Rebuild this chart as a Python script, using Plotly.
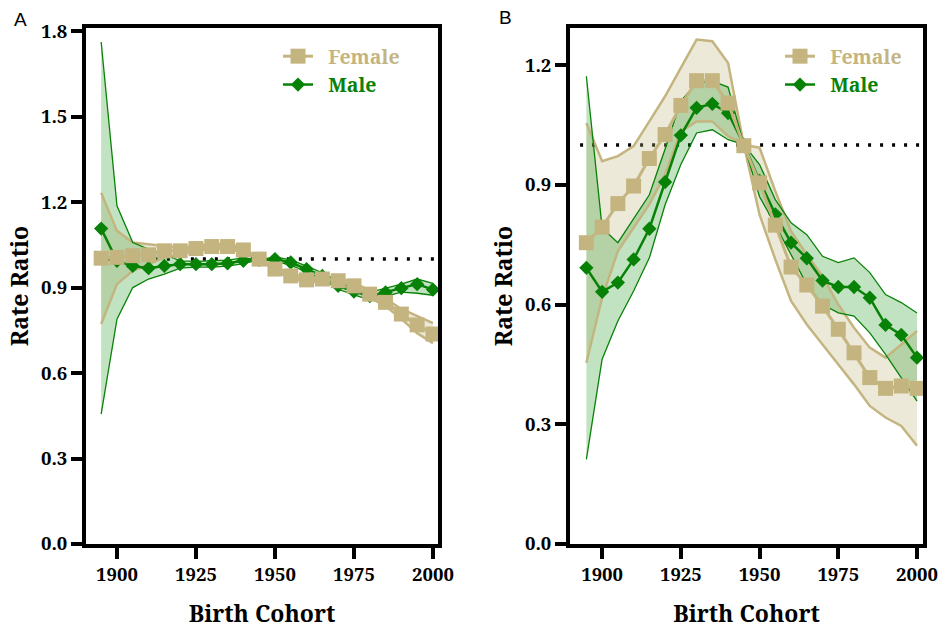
import plotly.graph_objects as go

years = [1895, 1900, 1905, 1910, 1915, 1920, 1925, 1930, 1935, 1940, 1945,
         1950, 1955, 1960, 1965, 1970, 1975, 1980, 1985, 1990, 1995, 2000]

# Panel A
a_female = [1.003, 1.006, 1.012, 1.015, 1.029, 1.029, 1.037, 1.044, 1.044, 1.032, 1.000,
            0.965, 0.941, 0.927, 0.930, 0.924, 0.906, 0.877, 0.848, 0.807, 0.769, 0.737]
a_female_hi = [1.233, 1.099, 1.058, 1.052, 1.046, 1.040, 1.046, 1.053, 1.053, 1.040, 1.000,
               0.972, 0.949, 0.936, 0.940, 0.934, 0.917, 0.889, 0.861, 0.825, 0.800, 0.775]
a_female_lo = [0.772, 0.912, 0.959, 0.982, 1.005, 1.018, 1.028, 1.035, 1.035, 1.024, 1.000,
               0.958, 0.933, 0.918, 0.920, 0.914, 0.895, 0.865, 0.835, 0.790, 0.740, 0.705]
a_male = [1.107, 0.994, 0.976, 0.968, 0.976, 0.982, 0.982, 0.982, 0.985, 0.994, 0.997,
          1.000, 0.988, 0.965, 0.941, 0.906, 0.886, 0.870, 0.883, 0.898, 0.912, 0.893]
a_male_hi = [1.762, 1.187, 1.058, 1.035, 1.017, 0.994, 0.992, 0.993, 0.996, 1.004, 0.997,
             1.008, 0.997, 0.975, 0.952, 0.918, 0.898, 0.883, 0.897, 0.912, 0.930, 0.915]
a_male_lo = [0.456, 0.789, 0.900, 0.930, 0.947, 0.968, 0.972, 0.972, 0.975, 0.984, 0.997,
             0.992, 0.979, 0.955, 0.930, 0.894, 0.874, 0.857, 0.869, 0.884, 0.880, 0.873]

# Panel B
b_female = [0.755, 0.794, 0.853, 0.897, 0.966, 1.026, 1.099, 1.161, 1.161, 1.105, 0.998,
            0.905, 0.799, 0.694, 0.649, 0.596, 0.538, 0.479, 0.417, 0.390, 0.396, 0.390]
b_female_hi = [1.055, 0.959, 0.972, 0.997, 1.059, 1.122, 1.193, 1.264, 1.260, 1.205, 1.000,
               0.993, 0.884, 0.784, 0.725, 0.671, 0.600, 0.542, 0.492, 0.467, 0.500, 0.534]
b_female_lo = [0.454, 0.617, 0.734, 0.792, 0.851, 0.926, 1.034, 1.059, 1.059, 1.022, 1.000,
               0.825, 0.713, 0.609, 0.550, 0.500, 0.450, 0.400, 0.346, 0.317, 0.296, 0.246]
b_male = [0.692, 0.632, 0.655, 0.713, 0.790, 0.907, 1.024, 1.093, 1.103, 1.080, 1.001,
          0.910, 0.826, 0.755, 0.716, 0.660, 0.644, 0.644, 0.617, 0.549, 0.524, 0.467]
b_male_hi = [1.172, 0.792, 0.755, 0.816, 0.875, 0.990, 1.110, 1.155, 1.160, 1.145, 1.001,
             0.951, 0.863, 0.805, 0.775, 0.721, 0.705, 0.717, 0.680, 0.625, 0.605, 0.579]
b_male_lo = [0.212, 0.463, 0.559, 0.634, 0.717, 0.850, 0.951, 1.030, 1.038, 1.013, 1.001,
             0.870, 0.800, 0.725, 0.650, 0.600, 0.579, 0.571, 0.529, 0.475, 0.417, 0.358]

x_ticks = [1900, 1925, 1950, 1975, 2000]
a_yticks = [0.0, 0.3, 0.6, 0.9, 1.2, 1.5, 1.8]
b_yticks = [0.0, 0.3, 0.6, 0.9, 1.2]

TAN = "#C4B580"
TAN_FILL = "rgba(196,181,128,0.30)"
GREEN = "#078207"
GREEN_FILL = "rgba(0,140,0,0.24)"
SERIF = "Noto Serif"

W, H = 941, 629  # body margin removed via post_script, so these are page pixels

fig = go.Figure()


def add_panel(fig, xa, ya, fem, fhi, flo, mal, mhi, mlo, legend):
    fig.add_trace(go.Scatter(x=years + years[::-1], y=fhi + flo[::-1], fill="toself",
                             fillcolor=TAN_FILL, line=dict(width=0), mode="lines",
                             hoverinfo="skip", showlegend=False, xaxis=xa, yaxis=ya))
    fig.add_trace(go.Scatter(x=years + years[::-1], y=mhi + mlo[::-1], fill="toself",
                             fillcolor=GREEN_FILL, line=dict(width=0), mode="lines",
                             hoverinfo="skip", showlegend=False, xaxis=xa, yaxis=ya))
    for arr in (fhi, flo):
        fig.add_trace(go.Scatter(x=years, y=arr, mode="lines", line=dict(color=TAN, width=2.5),
                                 hoverinfo="skip", showlegend=False, xaxis=xa, yaxis=ya))
    for arr in (mhi, mlo):
        fig.add_trace(go.Scatter(x=years, y=arr, mode="lines", line=dict(color=GREEN, width=1.3),
                                 hoverinfo="skip", showlegend=False, xaxis=xa, yaxis=ya))
    fig.add_trace(go.Scatter(x=years, y=mal, mode="lines+markers",
                             name="<b><span style='color:%s'>\u00a0\u00a0Male</span></b>" % GREEN,
                             line=dict(color=GREEN, width=2.5),
                             marker=dict(symbol="diamond", size=11, color=GREEN),
                             xaxis=xa, yaxis=ya, legend=legend, legendrank=2))
    fig.add_trace(go.Scatter(x=years, y=fem, mode="lines+markers",
                             name="<b><span style='color:%s'>\u00a0\u00a0Female</span></b>" % TAN,
                             line=dict(color=TAN, width=3),
                             marker=dict(symbol="square", size=15, color=TAN),
                             xaxis=xa, yaxis=ya, legend=legend, legendrank=1))


add_panel(fig, "x", "y", a_female, a_female_hi, a_female_lo, a_male, a_male_hi, a_male_lo,
          "legend")
add_panel(fig, "x2", "y2", b_female, b_female_hi, b_female_lo, b_male, b_male_hi, b_male_lo,
          "legend2")

for xr, yr in (("x", "y"), ("x2", "y2")):
    fig.add_shape(type="line", xref=xr, yref=yr, x0=1893, x1=2002, y0=1.0, y1=1.0,
                  line=dict(color="black", width=3.5, dash="3px,9px"), layer="below")

axis_common = dict(showgrid=False, zeroline=False, showline=True, linecolor="black",
                   linewidth=4, mirror=True, ticks="outside", ticklen=11, tickwidth=3.5,
                   tickcolor="black", automargin=False, ticklabeloverflow="allow",
                   tickfont=dict(family=SERIF, size=18.5, color="black", weight="bold"))

title_font = dict(family=SERIF, size=23, color="black", weight="bold")
YDOM = [1 - 544 / H, 1 - 28 / H]

fig.update_layout(
    width=W, height=H,
    margin=dict(l=0, r=0, t=0, b=0, autoexpand=False),
    paper_bgcolor="white", plot_bgcolor="white",
    xaxis=dict(domain=[86 / W, 438 / W], range=[1890.2, 2001.6], tickvals=x_ticks, anchor="y",
               title=dict(text="Birth Cohort", font=title_font, standoff=22), **axis_common),
    yaxis=dict(domain=YDOM, range=[0, 1.811], tickvals=a_yticks, anchor="x",
               tickformat=".1f",
               title=dict(text="Rate Ratio", font=title_font, standoff=7), **axis_common),
    xaxis2=dict(domain=[570 / W, 923 / W], range=[1889.8, 2001.9], tickvals=x_ticks, anchor="y2",
                title=dict(text="Birth Cohort", font=title_font, standoff=22), **axis_common),
    yaxis2=dict(domain=YDOM, range=[0, 1.293], tickvals=b_yticks, anchor="x2",
                tickformat=".1f",
                title=dict(text="Rate Ratio", font=title_font, standoff=7), **axis_common),
    legend=dict(x=278 / W, y=1 - 37 / H, xanchor="left", yanchor="top",
                bgcolor="rgba(0,0,0,0)", traceorder="normal",
                font=dict(family=SERIF, size=19.5), itemwidth=30),
    legend2=dict(x=780 / W, y=1 - 37 / H, xanchor="left", yanchor="top",
                 bgcolor="rgba(0,0,0,0)", traceorder="normal",
                 font=dict(family=SERIF, size=19.5), itemwidth=30),
    annotations=[
        dict(text="A", x=12 / W, y=1 - 20 / H, xref="paper", yref="paper",
             showarrow=False, xanchor="left", yanchor="middle",
             font=dict(family="Liberation Sans, Arial, sans-serif", size=19, color="black")),
        dict(text="B", x=497 / W, y=1 - 18 / H, xref="paper", yref="paper",
             showarrow=False, xanchor="left", yanchor="middle",
             font=dict(family="Liberation Sans, Arial, sans-serif", size=19, color="black")),
    ],
)

fig.write_html("out.html",
               config={"displayModeBar": False},
               post_script="document.body.style.margin='0px';"
                           "document.body.style.overflow='hidden';")
